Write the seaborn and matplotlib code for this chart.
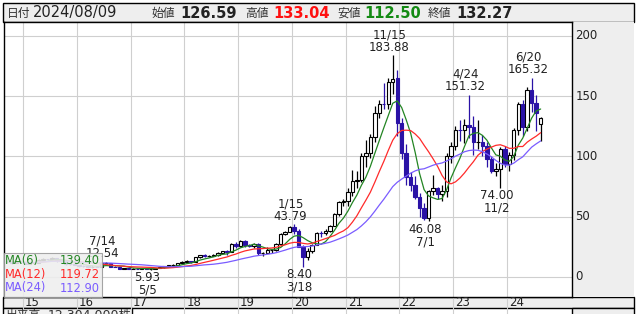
import numpy as np
import pandas as pd
import matplotlib
matplotlib.use("Agg")
import matplotlib.pyplot as plt
import seaborn as sns
from matplotlib.patches import Rectangle

sns.set_theme(style="white")
plt.rcParams['font.family'] = ['DejaVu Sans', 'Noto Sans CJK JP']

# ---------------- data (monthly candles, 2014-09 .. 2024-08) ----------------
months = pd.period_range("2014-09", "2024-08", freq="M")

opens = [
    12.9, 12.6, 11.6, 12.6,
    12.5, 11.0, 11.5, 11.8, 14.5, 14.9, 14.7, 15.8, 13.9, 12.9, 10.9, 10.7,
    10.2, 9.05, 8.9, 8.04, 8.5, 8.3, 11.3, 11.7, 8.4, 8.3, 7.0, 7.4,
    6.86, 7.0, 6.9, 7.07, 6.6, 7.0, 7.7, 7.9, 8.9, 9.7, 10.2, 11.7,
    12.64, 13.2, 12.2, 16.25, 18.1, 17.4, 17.6, 18.6, 19.6, 21.3, 20.6, 27.6,
    25.98, 29.9, 26.5, 25.75, 27.6, 19.7, 19.75, 22.1, 22.1, 27.76, 35.9, 37.4,
    41.89, 38.4, 25.3, 16.99, 21.5, 26.6, 36.8, 36.1, 37.9, 42.7, 52.1, 62.0,
    62.66, 70.8, 80.0, 80.45, 100.3, 102.5, 116.5, 135.9, 143.7, 143.5, 161.5, 165.0,
    128.2, 102.6, 83.0, 76.4, 66.6, 57.5, 48.67, 71.3, 73.6, 68.7, 71.0, 100.0,
    108.4, 122.0, 121.6, 126.4, 124.5, 112.1, 112.4, 108.4, 97.6, 88.2, 89.3, 105.9,
    93.4, 101.4, 122.3, 143.8, 124.4, 155.4, 144.5, 126.59,
]
highs = [
    13.3, 12.9, 12.9, 13.1,
    12.6, 12.0, 12.0, 14.9, 15.6, 15.3, 16.5, 16.1, 14.1, 13.3, 11.6, 10.9,
    10.3, 9.6, 9.7, 9.6, 9.0, 11.4, 12.54, 11.9, 8.9, 8.5, 7.6, 7.5,
    7.2, 7.5, 7.2, 7.1, 7.4, 7.8, 8.3, 9.4, 10.0, 10.6, 12.0, 13.0,
    14.0, 13.6, 16.5, 18.4, 18.8, 18.6, 19.1, 20.6, 21.7, 22.0, 28.5, 29.0,
    30.5, 30.7, 27.0, 28.0, 28.1, 21.0, 24.6, 23.5, 28.5, 36.5, 38.0, 42.4,
    43.79, 39.5, 26.9, 23.8, 27.5, 37.6, 38.5, 40.1, 43.0, 52.8, 63.0, 65.0,
    74.0, 89.0, 88.0, 103.0, 113.5, 118.5, 142.0, 147.0, 161.0, 165.5, 183.88, 172.0,
    132.0, 110.0, 87.0, 83.5, 70.0, 61.0, 72.5, 85.0, 75.0, 76.0, 103.0, 112.0,
    125.5, 130.0, 131.0, 151.32, 134.0, 130.0, 118.0, 112.0, 100.0, 95.0, 108.0, 109.0,
    104.0, 124.0, 145.0, 147.0, 158.0, 165.32, 151.0, 133.04,
]
lows = [
    12.2, 11.0, 11.3, 11.8,
    10.7, 10.8, 11.0, 11.6, 14.2, 14.2, 14.0, 12.6, 12.5, 10.3, 10.2, 9.8,
    8.6, 7.9, 7.6, 7.8, 7.9, 8.2, 10.9, 8.1, 7.9, 6.9, 6.6, 6.7,
    6.6, 6.7, 6.6, 6.3, 5.93, 6.9, 7.1, 7.7, 8.5, 9.1, 10.0, 11.5,
    12.6, 11.7, 12.1, 15.4, 16.4, 16.8, 17.1, 17.6, 19.3, 18.6, 20.4, 23.8,
    25.0, 24.7, 24.5, 24.4, 18.4, 17.8, 19.5, 20.1, 21.6, 26.9, 34.6, 37.0,
    36.0, 24.5, 8.40, 14.5, 19.9, 26.2, 33.0, 34.5, 37.6, 42.0, 51.0, 58.5,
    59.0, 67.5, 74.0, 78.9, 91.0, 99.0, 112.0, 132.0, 139.0, 139.0, 152.0, 117.0,
    98.0, 76.0, 71.0, 65.0, 50.0, 47.5, 46.08, 68.0, 65.0, 63.0, 66.0, 95.0,
    105.6, 112.5, 111.0, 115.0, 101.0, 106.0, 100.0, 91.0, 86.0, 84.0, 74.00, 91.0,
    88.0, 97.0, 118.0, 117.4, 121.0, 137.0, 121.0, 112.50,
]
closes = [
    12.58, 11.6, 12.6, 12.49,
    11.0, 11.5, 11.8, 14.5, 14.9, 14.7, 15.8, 13.9, 12.9, 10.9, 10.7, 10.24,
    9.05, 8.9, 8.04, 8.5, 8.3, 11.28, 11.7, 8.4, 8.3, 7.0, 7.4, 6.86,
    7.0, 6.9, 7.07, 6.6, 7.0, 7.71, 7.9, 8.9, 9.7, 10.2, 11.7, 12.64,
    13.2, 12.2, 16.25, 18.1, 17.4, 17.6, 18.6, 19.6, 21.3, 20.6, 27.6, 25.98,
    29.9, 26.5, 25.75, 27.6, 19.7, 19.75, 22.1, 22.1, 27.76, 35.9, 37.4, 41.89,
    38.4, 25.3, 16.99, 21.5, 26.6, 36.8, 36.1, 37.9, 42.7, 52.1, 62.0, 62.66,
    70.8, 80.0, 80.45, 100.3, 102.5, 116.5, 135.9, 143.7, 143.5, 161.5, 164.0, 128.2,
    102.6, 83.0, 76.4, 66.6, 57.5, 48.67, 71.3, 73.6, 68.7, 71.0, 100.0, 108.4,
    122.0, 121.6, 126.4, 124.5, 112.1, 112.4, 108.4, 97.6, 88.2, 89.3, 105.9, 93.4,
    101.4, 122.3, 143.8, 124.4, 155.4, 144.0, 136.5, 132.27,
]

ma_windows = [6, 12, 24]
ma_colors = ['#238523', '#ff2a2a', '#7a5cff']
ma_legend_values = ['139.40', '119.72', '112.90']

ann_months = ["2016-07", "2017-05", "2020-01", "2020-03", "2021-11",
              "2022-07", "2023-04", "2023-11", "2024-06"]
ann_dates = ["7/14", "5/5", "1/15", "3/18", "11/15", "7/1", "4/24", "11/2", "6/20"]
ann_kinds = ["high", "low", "high", "low", "high", "low", "high", "low", "high"]

year_ticks = list(range(2015, 2025))
y_ticks = [0, 50, 100, 150, 200]

header_items = [("日付", "2024/08/09", "normal", "#222222"),
                ("始値", "126.59", "bold", "#222222"),
                ("高値", "133.04", "bold", "#ff1010"),
                ("安値", "112.50", "bold", "#138a13"),
                ("終値", "132.27", "bold", "#222222")]

# ---------------- frame ----------------
df = pd.DataFrame({"open": opens, "high": highs, "low": lows, "close": closes})
df["t"] = [p.year + (p.month - 1) / 12 + 1 / 24 for p in months]
for w in ma_windows:
    df[f"ma{w}"] = df["close"].rolling(w, min_periods=1).mean()

W, H = 638, 314
fig = plt.figure(figsize=(W / 100, H / 100), dpi=100)
fig.patch.set_facecolor("white")


def fx(x):
    return x / W


def fy(y):
    return 1 - y / H


def frect(x0, y0, x1, y1, fc, ec="none", lw=0.0, z=-1):
    fig.patches.append(Rectangle((fx(x0), fy(y1)), fx(x1) - fx(x0), fy(y0) - fy(y1),
                                 transform=fig.transFigure, facecolor=fc,
                                 edgecolor=ec, linewidth=lw, zorder=z))


PX0, PX1, PY0, PY1 = 4, 572, 22, 297
ax = fig.add_axes([fx(PX0), fy(PY1), fx(PX1) - fx(PX0), fy(PY0) - fy(PY1)])
ax.set_facecolor("white")
ax.set_xlim(2014.647, 2025.208)
ax.set_ylim(-16.6, 211.6)
for s in ax.spines.values():
    s.set_color("black")
    s.set_linewidth(1.0)
    s.set_visible(True)

# grid
for v in y_ticks:
    ax.axhline(v, color="#cfcfcf", lw=0.8, zorder=0)
for yr in year_ticks:
    ax.axvline(yr, color="#cfcfcf", lw=0.8, zorder=0)
    ax.plot([yr, yr], [0, -0.07], transform=ax.get_xaxis_transform(),
            color="#cfcfcf", lw=0.8, clip_on=False, zorder=-0.5)

# candles
up = df["close"] >= df["open"]
down_col = "#2a12a6"
body_lo = np.minimum(df["open"], df["close"])
body_h = np.abs(df["close"] - df["open"])
wick_colors = np.where(up, "black", down_col)
ax.vlines(df["t"], df["low"], df["high"], colors=list(wick_colors), lw=0.9, zorder=2)
ax.bar(df["t"][up], body_h[up], bottom=body_lo[up], width=0.064,
       color="white", edgecolor="black", linewidth=0.8, zorder=3)
ax.bar(df["t"][~up], body_h[~up], bottom=body_lo[~up], width=0.064,
       color=down_col, edgecolor=down_col, linewidth=0.8, zorder=3)

# moving averages
for w, c in zip(ma_windows, ma_colors):
    sns.lineplot(data=df, x="t", y=f"ma{w}", color=c, lw=0.9, ax=ax, zorder=4,
                 legend=False)
ax.set_xlabel("")
ax.set_ylabel("")
ax.set_xticks([])
ax.set_yticks([])

# high / low annotations
tmap = dict(zip([str(p) for p in months], df.index))
for m, d, k in zip(ann_months, ann_dates, ann_kinds):
    i = tmap[m]
    t = df.loc[i, "t"]
    if k == "high":
        v = df.loc[i, "high"]
        ax.annotate(f"{d}\n{v:.2f}", xy=(t, v), xytext=(-2.5, 1),
                    textcoords="offset points", ha="center", va="bottom",
                    fontsize=8.5, linespacing=0.95, color="#222222", zorder=5)
    else:
        v = df.loc[i, "low"]
        ax.annotate(f"{v:.2f}\n{d}", xy=(t, v), xytext=(-2.5, -1),
                    textcoords="offset points", ha="center", va="top",
                    fontsize=8.5, linespacing=0.95, color="#222222", zorder=5)

# legend box (semi transparent)
lg_x0, lg_x1, lg_y0, lg_y1 = 3.5, 101.5, 253, 297
ax.add_patch(Rectangle(((lg_x0 - PX0) / (PX1 - PX0), (PY1 - lg_y1) / (PY1 - PY0)),
                       (lg_x1 - lg_x0) / (PX1 - PX0), (lg_y1 - lg_y0) / (PY1 - PY0),
                       transform=ax.transAxes, facecolor="#eeeeee", alpha=0.88,
                       edgecolor="#999999", linewidth=0.8, zorder=10, clip_on=False))
for j, (w, c, val) in enumerate(zip(ma_windows, ma_colors, ma_legend_values)):
    yy = [260.5, 274.5, 288][j]
    fig.text(fx(5), fy(yy), f"MA({w})", color=c, fontsize=8.3, va="center",
             ha="left", zorder=11)
    fig.text(fx(100), fy(yy), val, color=c, fontsize=8.3, va="center",
             ha="right", zorder=11)

# ---------------- surrounding panels ----------------
# header
frect(3, 3, 634, 22, "#eeeeee", "black", 1.0, z=-1)
hx = [(7, 33), (152, 180), (245, 273), (337, 364), (428, 456)]
for (lx, vx), (lab, val, wt, col) in zip(hx, header_items):
    fig.text(fx(lx), fy(13), lab, fontsize=8.5, color="#333333", va="center", ha="left")
    fig.text(fx(vx), fy(13), val, fontsize=10.5, color=col, va="center", ha="left",
             fontweight=wt)

# right y-axis panel
frect(PX1, PY0, 634, PY1, "#eeeeee", z=-1)
for v in y_ticks:
    ax.text(1 + 3.5 / (PX1 - PX0), v, str(v), transform=ax.get_yaxis_transform(),
            fontsize=8.5, va="center", ha="left", color="#222222", clip_on=False)

# x-axis row
frect(3, PY1, 634, 308, "#eeeeee", "black", 1.0, z=-2)
for yr in year_ticks:
    ax.text(yr + 2 / 53.78, -(302.5 - PY1) / (PY1 - PY0), f"{yr % 100}",
            transform=ax.get_xaxis_transform(), fontsize=8.5, va="center",
            ha="left", color="#222222", clip_on=False)

# volume panel header (cut off at bottom, as in the reference)
frect(3, 308, 132, 320, "#f2f2f2", "black", 1.0, z=-1)
frect(PX1, 308, 634, 320, "#eeeeee", "black", 1.0, z=-1)
fig.text(fx(6), fy(309), "出来高", fontsize=8.5, color="#333333", va="top", ha="left")
fig.text(fx(48), fy(309), "12,304,000株", fontsize=9, color="#333333", va="top", ha="left")

fig.savefig("out.png", dpi=100)
